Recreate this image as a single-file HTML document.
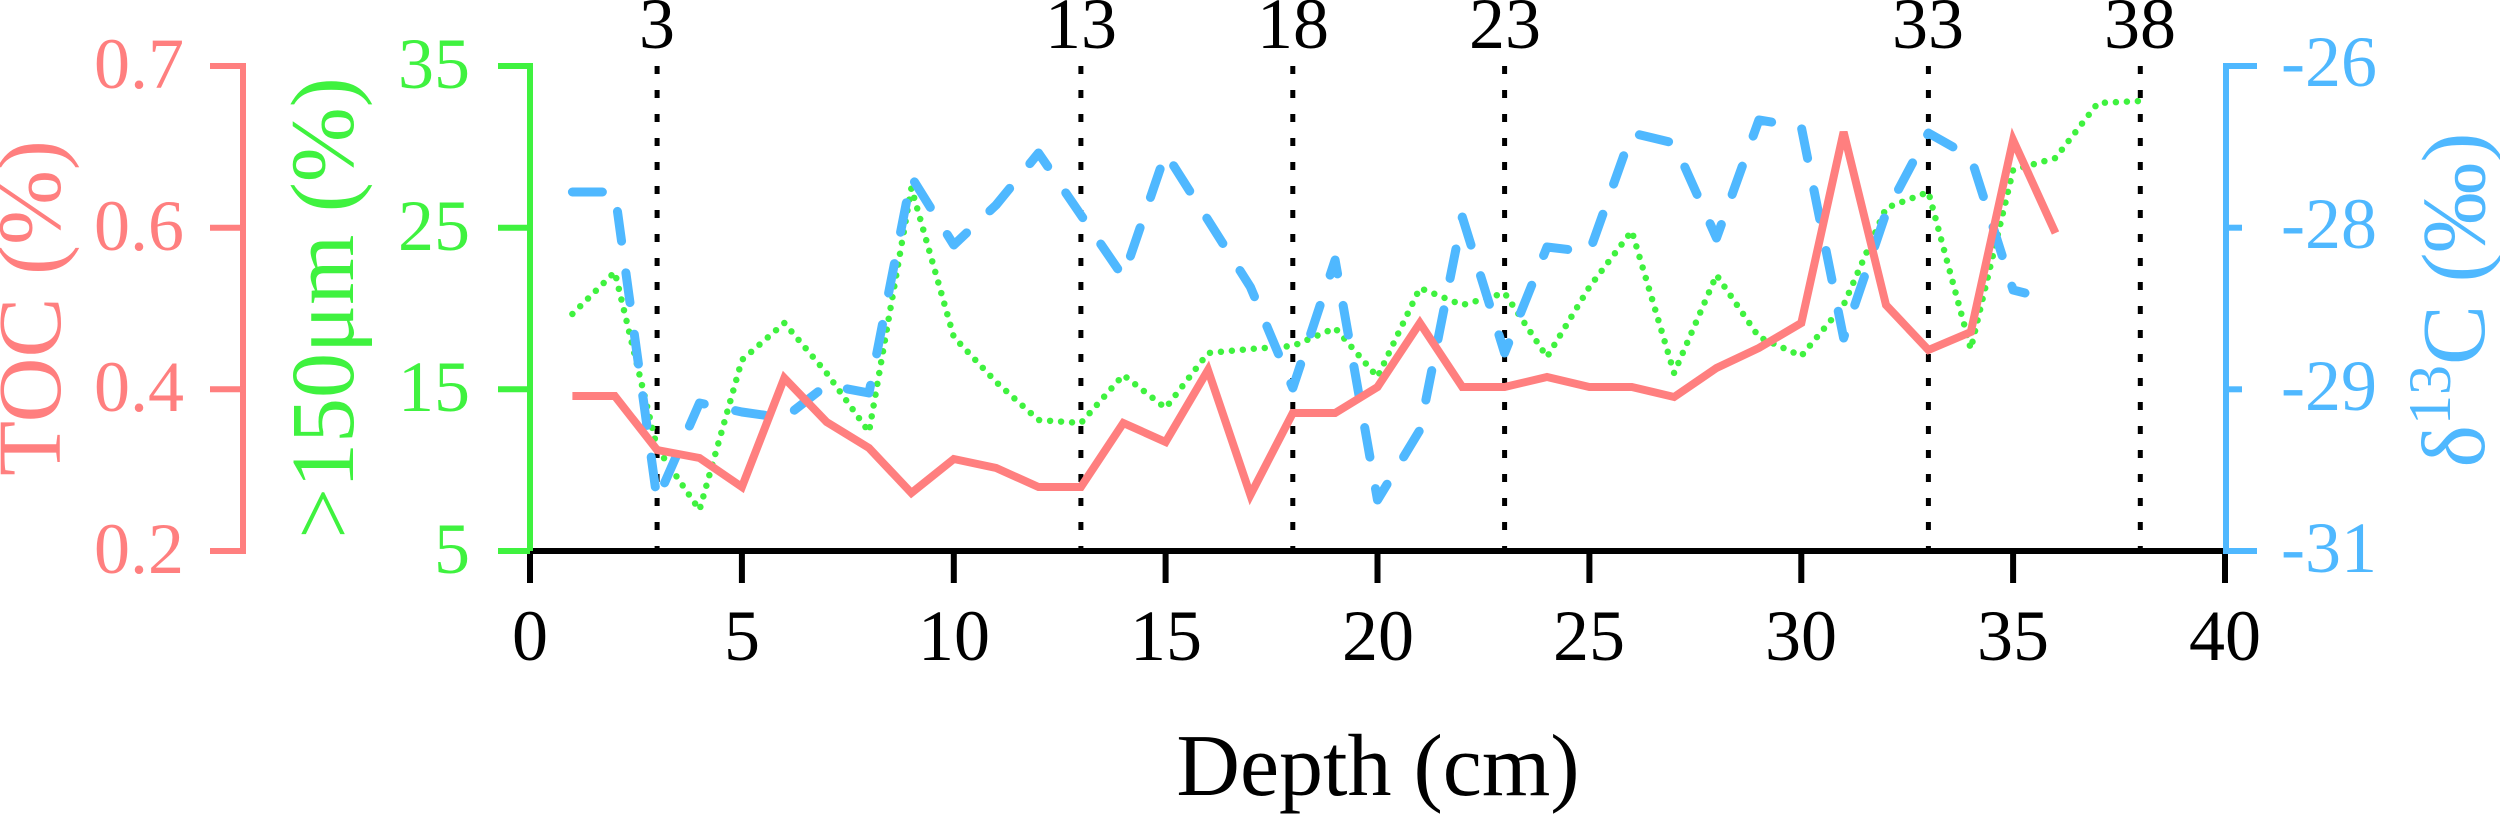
<!DOCTYPE html>
<html><head><meta charset="utf-8"><style>
html,body{margin:0;padding:0;background:#fff;}
svg{display:block;}
text{font-family:"Liberation Serif",serif;}
</style></head><body>
<svg width="2500" height="815" viewBox="0 0 2500 815" xmlns="http://www.w3.org/2000/svg">
<g stroke="#000" stroke-width="5" stroke-dasharray="8 16">
<line x1="657.1" y1="66" x2="657.1" y2="551"/>
<line x1="1080.9" y1="66" x2="1080.9" y2="551"/>
<line x1="1292.8" y1="66" x2="1292.8" y2="551"/>
<line x1="1504.6" y1="66" x2="1504.6" y2="551"/>
<line x1="1928.4" y1="66" x2="1928.4" y2="551"/>
<line x1="2140.3" y1="66" x2="2140.3" y2="551"/>
</g>
<g font-size="72" text-anchor="middle" fill="#000">
<text x="657" y="48">3</text><text x="1081" y="48">13</text><text x="1293" y="48">18</text>
<text x="1505" y="48">23</text><text x="1928" y="48">33</text><text x="2140" y="48">38</text>
</g>
<polyline fill="none" stroke="#3ff23f" stroke-width="6.5" stroke-linecap="round" stroke-dasharray="0 11" points="572.4,314 614.8,272 657.1,448 699.5,510 741.9,360 784.3,323 826.6,373 869,432 911.4,188 953.8,337 996.1,382 1038.5,420 1080.9,423 1123.3,375 1165.6,408 1208,353 1250.4,349 1292.8,346 1335.1,328 1377.5,377 1419.9,288 1462.3,305 1504.6,293 1547,357 1589.4,287 1631.8,231 1674.1,373 1716.5,275 1758.9,337 1801.3,356 1843.6,305 1886,208 1928.4,192 1970.8,349 2013.1,170 2055.5,158 2097.9,103 2140.3,101"/>
<polyline fill="none" stroke="#4fb8ff" stroke-width="9" stroke-linecap="round" stroke-linejoin="round" stroke-dasharray="30 32" points="572.4,192 614.8,192 657.1,500 699.5,403 741.9,412 784.3,418 826.6,385 869,393 911.4,177 953.8,245 996.1,205 1038.5,153 1080.9,215 1123.3,277 1165.6,153 1208,220 1250.4,287 1292.8,388 1335.1,260 1377.5,500 1419.9,430 1462.3,217 1504.6,353 1547,247 1589.4,252 1631.8,133 1674.1,143 1716.5,238 1758.9,120 1801.3,127 1843.6,338 1886,213 1928.4,133 1970.8,157 2013.1,290 2025,293"/>
<polyline fill="none" stroke="#ff7f7f" stroke-width="8" stroke-linejoin="miter" points="572.4,396 614.8,396 657.1,450 699.5,458 741.9,487 784.3,378 826.6,422 869,448 911.4,493 953.8,459 996.1,468 1038.5,487 1080.9,487 1123.3,423 1165.6,442 1208,370 1250.4,495 1292.8,413 1335.1,413 1377.5,387 1419.9,323 1462.3,387 1504.6,387 1547,377 1589.4,387 1631.8,387 1674.1,397 1716.5,368 1758.9,348 1801.3,323 1843.6,132 1886,305 1928.4,350 1970.8,332 2013.1,140 2055.5,233"/>
<line x1="530" y1="551" x2="2229" y2="551" stroke="#000" stroke-width="6"/>
<g stroke="#000" stroke-width="6">
<line x1="530" y1="551" x2="530" y2="583"/><line x1="741.9" y1="551" x2="741.9" y2="583"/>
<line x1="953.8" y1="551" x2="953.8" y2="583"/><line x1="1165.6" y1="551" x2="1165.6" y2="583"/>
<line x1="1377.5" y1="551" x2="1377.5" y2="583"/><line x1="1589.4" y1="551" x2="1589.4" y2="583"/>
<line x1="1801.3" y1="551" x2="1801.3" y2="583"/><line x1="2013.1" y1="551" x2="2013.1" y2="583"/>
<line x1="2225" y1="551" x2="2225" y2="583"/>
</g>
<g font-size="72" text-anchor="middle" fill="#000">
<text x="530" y="660">0</text><text x="742" y="660">5</text><text x="954" y="660">10</text>
<text x="1166" y="660">15</text><text x="1378" y="660">20</text><text x="1589" y="660">25</text>
<text x="1801" y="660">30</text><text x="2013" y="660">35</text><text x="2225" y="660">40</text>
</g>
<text x="1378" y="795" font-size="88" text-anchor="middle" fill="#000">Depth (cm)</text>
<g stroke="#ff7f7f" stroke-width="6" fill="none">
<polyline points="210,66 243,66 243,551 210,551"/>
<line x1="210" y1="227.7" x2="243" y2="227.7"/><line x1="210" y1="389.3" x2="243" y2="389.3"/>
</g>
<g font-size="72" text-anchor="end" fill="#ff7f7f">
<text x="184" y="88">0.7</text><text x="184" y="250">0.6</text><text x="184" y="411">0.4</text><text x="184" y="573">0.2</text>
</g>
<text transform="translate(60,308) rotate(-90)" font-size="90" text-anchor="middle" fill="#ff7f7f">TOC (%)</text>
<g stroke="#3ff23f" stroke-width="6" fill="none">
<line x1="530" y1="63" x2="530" y2="551"/>
<line x1="498" y1="66" x2="530" y2="66"/><line x1="498" y1="227.7" x2="530" y2="227.7"/>
<line x1="498" y1="389.3" x2="530" y2="389.3"/><line x1="498" y1="551" x2="530" y2="551"/>
</g>
<g font-size="72" text-anchor="end" fill="#3ff23f">
<text x="470" y="88">35</text><text x="470" y="250">25</text><text x="470" y="411">15</text><text x="470" y="573">5</text>
</g>
<text transform="translate(353,308) rotate(-90)" font-size="90" text-anchor="middle" fill="#3ff23f">&gt;150μm (%)</text>
<g stroke="#4fb8ff" stroke-width="6" fill="none">
<polyline points="2257,66 2226,66 2226,551 2257,551"/>
<line x1="2226" y1="227.7" x2="2242" y2="227.7"/><line x1="2226" y1="389.3" x2="2242" y2="389.3"/>
</g>
<g font-size="72" text-anchor="start" fill="#4fb8ff">
<text x="2281" y="86">-26</text><text x="2281" y="248">-28</text><text x="2281" y="410">-29</text><text x="2281" y="572">-31</text>
</g>
<text transform="translate(2484,300) rotate(-90)" font-size="90" text-anchor="middle" fill="#4fb8ff">δ<tspan font-size="60" dy="-34">13</tspan><tspan dy="34">C (‰)</tspan></text>
</svg>
</body></html>
